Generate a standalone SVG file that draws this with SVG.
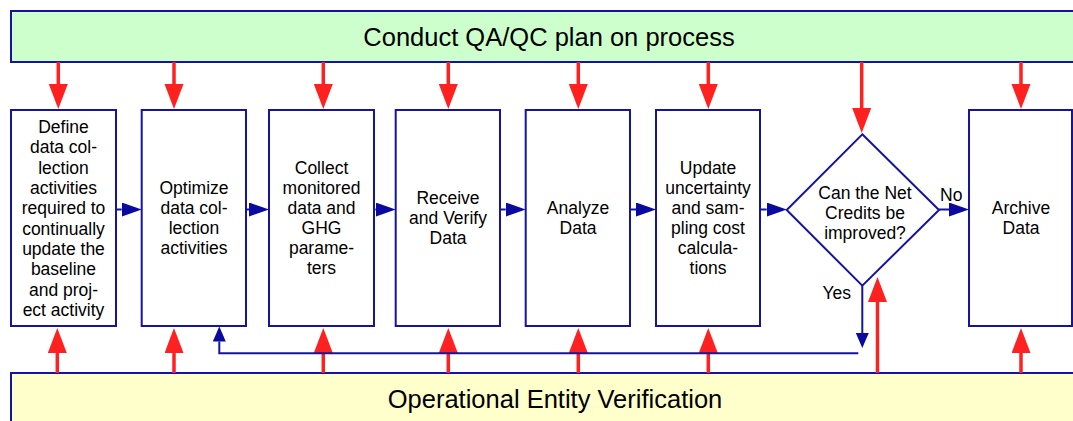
<svg xmlns="http://www.w3.org/2000/svg" width="1073" height="421" viewBox="0 0 1073 421">
<style>
.bar{stroke:#1414A0;stroke-width:2}
.box{fill:#FFFFFF;stroke:#1414A0;stroke-width:2}
.t{font-family:"Liberation Sans",Arial,sans-serif;font-size:17.5px;fill:#000;text-anchor:middle}
.big{font-family:"Liberation Sans",Arial,sans-serif;font-size:25.5px;fill:#000;text-anchor:middle}
.red{stroke:#FF2020;stroke-width:3.5;fill:none}
.blue{stroke:#1414A0;stroke-width:2;fill:none}
</style>
<defs>
<marker id="rh" markerUnits="userSpaceOnUse" markerWidth="26" markerHeight="20" refX="0" refY="9.5" orient="auto">
<path d="M0,0 L25,9.5 L0,19 Z" fill="#FF2020"/>
</marker>
<marker id="bh" markerUnits="userSpaceOnUse" markerWidth="21" markerHeight="15" refX="0" refY="7" orient="auto">
<path d="M0,0 L20,7 L0,14 Z" fill="#0A0AA0"/>
</marker>
<marker id="bhs" markerUnits="userSpaceOnUse" markerWidth="16" markerHeight="14" refX="0" refY="6.5" orient="auto">
<path d="M0,0 L15,6.5 L0,13 Z" fill="#0A0AA0"/>
</marker>
</defs>

<g id="qaqc">
<rect class="bar" x="11" y="11" width="1075" height="51" fill="#CCFFCC"/>
<text class="big" x="549" y="46">Conduct QA/QC plan on process</text>
</g>

<g id="oev">
<rect class="bar" x="11" y="373" width="1075" height="60" fill="#FFFFCC"/>
<text class="big" x="555" y="408">Operational Entity Verification</text>
</g>

<g id="define">
<rect class="box" x="11" y="110" width="105" height="216"/>
<text class="t" x="63.5" y="133">Define</text>
<text class="t" x="63.5" y="153.3">data col-</text>
<text class="t" x="63.5" y="173.6">lection</text>
<text class="t" x="63.5" y="194">activities</text>
<text class="t" x="63.5" y="214.3">required to</text>
<text class="t" x="63.5" y="234.6">continually</text>
<text class="t" x="63.5" y="255">update the</text>
<text class="t" x="63.5" y="275.3">baseline</text>
<text class="t" x="63.5" y="295.6">and proj-</text>
<text class="t" x="63.5" y="316">ect activity</text>
</g>

<g id="optimize">
<rect class="box" x="141.7" y="110" width="104.3" height="216"/>
<text class="t" x="194" y="194">Optimize</text>
<text class="t" x="194" y="214">data col-</text>
<text class="t" x="194" y="234">lection</text>
<text class="t" x="194" y="254">activities</text>
</g>

<g id="collect">
<rect class="box" x="269" y="110" width="105" height="216"/>
<text class="t" x="321.5" y="174">Collect</text>
<text class="t" x="321.5" y="194">monitored</text>
<text class="t" x="321.5" y="214">data and</text>
<text class="t" x="321.5" y="234">GHG</text>
<text class="t" x="321.5" y="254">parame-</text>
<text class="t" x="321.5" y="274">ters</text>
</g>

<g id="receive">
<rect class="box" x="395.7" y="110" width="104.3" height="216"/>
<text class="t" x="448" y="204">Receive</text>
<text class="t" x="448" y="224">and Verify</text>
<text class="t" x="448" y="244">Data</text>
</g>

<g id="analyze">
<rect class="box" x="525.7" y="110" width="104.3" height="216"/>
<text class="t" x="578" y="214">Analyze</text>
<text class="t" x="578" y="234">Data</text>
</g>

<g id="update">
<rect class="box" x="656" y="110" width="104" height="216"/>
<text class="t" x="708" y="174">Update</text>
<text class="t" x="708" y="194">uncertainty</text>
<text class="t" x="708" y="214">and sam-</text>
<text class="t" x="708" y="234">pling cost</text>
<text class="t" x="708" y="254">calcula-</text>
<text class="t" x="708" y="274">tions</text>
</g>

<g id="decision">
<polygon class="box" points="862.3,134.3 939,210 862.3,285.7 786.7,210"/>
<text class="t" x="865" y="199">Can the Net</text>
<text class="t" x="865" y="219">Credits be</text>
<text class="t" x="865" y="239">improved?</text>
</g>

<g id="archive">
<rect class="box" x="969" y="110" width="103" height="216"/>
<text class="t" x="1021" y="214">Archive</text>
<text class="t" x="1021" y="234">Data</text>
</g>

<g id="connectors">
<!-- top red arrows -->
<line class="red" x1="58.3" y1="62" x2="58.3" y2="84" marker-end="url(#rh)"/>
<line class="red" x1="174" y1="62" x2="174" y2="84" marker-end="url(#rh)"/>
<line class="red" x1="323.3" y1="62" x2="323.3" y2="84" marker-end="url(#rh)"/>
<line class="red" x1="448.3" y1="62" x2="448.3" y2="84" marker-end="url(#rh)"/>
<line class="red" x1="578.3" y1="62" x2="578.3" y2="84" marker-end="url(#rh)"/>
<line class="red" x1="708.3" y1="62" x2="708.3" y2="84" marker-end="url(#rh)"/>
<line class="red" x1="861.7" y1="62" x2="861.7" y2="108" marker-end="url(#rh)"/>
<line class="red" x1="1021" y1="62" x2="1021" y2="84" marker-end="url(#rh)"/>
<!-- bottom red arrows -->
<line class="red" x1="57.3" y1="373" x2="57.3" y2="353" marker-end="url(#rh)"/>
<line class="red" x1="174" y1="373" x2="174" y2="353" marker-end="url(#rh)"/>
<line class="red" x1="323.3" y1="373" x2="323.3" y2="353" marker-end="url(#rh)"/>
<line class="red" x1="448.3" y1="373" x2="448.3" y2="353" marker-end="url(#rh)"/>
<line class="red" x1="578.3" y1="373" x2="578.3" y2="353" marker-end="url(#rh)"/>
<line class="red" x1="708.3" y1="373" x2="708.3" y2="353" marker-end="url(#rh)"/>
<line class="red" x1="877.5" y1="373" x2="877.5" y2="302" marker-end="url(#rh)"/>
<line class="red" x1="1021" y1="373" x2="1021" y2="353" marker-end="url(#rh)"/>
<!-- blue flow arrows -->
<line class="blue" x1="116" y1="209.5" x2="121.7" y2="209.5" marker-end="url(#bh)"/>
<line class="blue" x1="246" y1="209.5" x2="249" y2="209.5" marker-end="url(#bh)"/>
<line class="blue" x1="374" y1="209.5" x2="375.7" y2="209.5" marker-end="url(#bh)"/>
<line class="blue" x1="500" y1="209.5" x2="505.7" y2="209.5" marker-end="url(#bh)"/>
<line class="blue" x1="630" y1="209.5" x2="636" y2="209.5" marker-end="url(#bh)"/>
<line class="blue" x1="760" y1="209.5" x2="766.7" y2="209.5" marker-end="url(#bh)"/>
<line class="blue" x1="939" y1="209.5" x2="949" y2="209.5" marker-end="url(#bh)"/>
<!-- Yes feedback loop -->
<line class="blue" x1="862.3" y1="285.7" x2="862.3" y2="333" marker-end="url(#bhs)"/>
<polyline class="blue" points="858.3,353.3 219.3,353.3 219.3,341.5" marker-end="url(#bhs)"/>
<text class="t" x="940" y="201" style="text-anchor:start">No</text>
<text class="t" x="836.7" y="299">Yes</text>
</g>
</svg>
